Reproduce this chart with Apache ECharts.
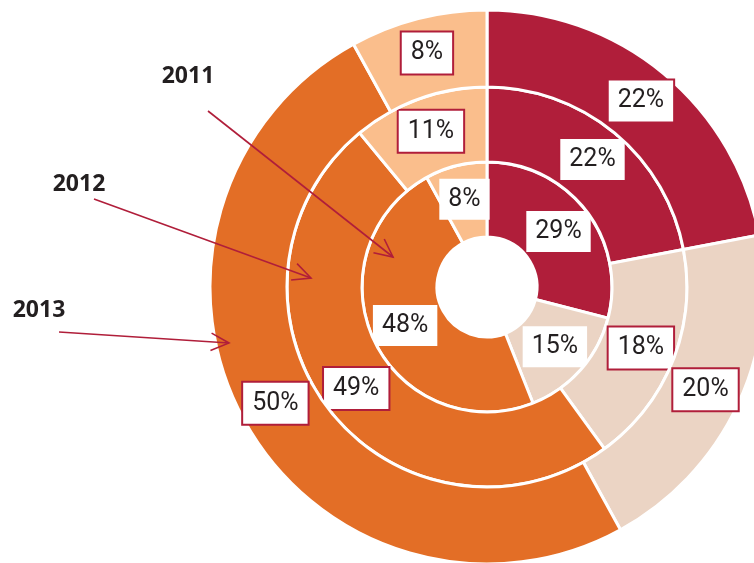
<!DOCTYPE html>
<html><head><meta charset="utf-8">
<script src="https://cdn.jsdelivr.net/npm/echarts@6/dist/echarts.min.js"></script>
<style>html,body{margin:0;padding:0;background:#fff}#c{width:754px;height:563px}</style>
</head><body><div id="c"></div>
<script>
const categories = ['A', 'B', 'C', 'D'];
const years = ['2011', '2012', '2013'];
const values2011 = [29, 15, 48, 8];
const values2012 = [22, 18, 49, 11];
const values2013 = [22, 20, 50, 8];

const colors = ['#B01E3A', '#EBD4C4', '#E36E26', '#FABE8C'];
const center = [487, 287];
const rings = [[50, 125], [125, 200], [200, 277]];
const FONT = '"Noto Sans", "Open Sans", sans-serif';
const LFONT = 'Roboto, "Noto Sans", sans-serif';

function series(vals, idx) {
  const bordered = idx > 0;
  return {
    type: 'pie', center: center, radius: rings[idx], startAngle: 90, clockwise: true,
    avoidLabelOverlap: false, silent: true, animation: false, z: 2 + idx,
    itemStyle: { borderColor: '#fff', borderWidth: 3 },
    label: {
      show: true, position: 'inside', formatter: '{c}%',
      fontFamily: LFONT, fontSize: 25, color: '#231F20', lineHeight: 26,
      backgroundColor: '#fff', padding: [8, 9, 7, 9],
      borderColor: bordered ? '#B01E3A' : '#fff', borderWidth: bordered ? 2 : 0
    },
    labelLayout: { hideOverlap: false },
    labelLine: { show: false },
    emphasis: { disabled: true },
    data: vals.map((v, i) => ({ name: categories[i], value: v, itemStyle: { color: colors[i] } }))
  };
}

const annotations = [
  { text: years[0], tx: 188, ty: 76, from: [208, 111], to: [393, 257] },
  { text: years[1], tx: 79, ty: 184, from: [94, 199], to: [311, 278] },
  { text: years[2], tx: 39, ty: 310, from: [59, 332], to: [229, 343] }
];
const graphics = [];
annotations.forEach(a => {
  graphics.push({ type: 'text', x: a.tx, y: a.ty, z: 100,
    style: { text: a.text, align: 'center', verticalAlign: 'middle',
      font: 'bold 23px ' + FONT, fill: '#231F20' } });
  graphics.push({ type: 'line', z: 100, shape: { x1: a.from[0], y1: a.from[1], x2: a.to[0], y2: a.to[1] },
    style: { stroke: '#B01E3A', lineWidth: 1.6 } });
  const ang = Math.atan2(a.to[1] - a.from[1], a.to[0] - a.from[0]);
  const L = 20, spread = 0.45;
  const p1 = [a.to[0] - L * Math.cos(ang - spread), a.to[1] - L * Math.sin(ang - spread)];
  const p2 = [a.to[0] - L * Math.cos(ang + spread), a.to[1] - L * Math.sin(ang + spread)];
  graphics.push({ type: 'polyline', z: 100, shape: { points: [p1, a.to, p2] },
    style: { stroke: '#B01E3A', lineWidth: 1.6, fill: null } });
});

const chart = echarts.init(document.getElementById('c'), null, { renderer: 'canvas' });
chart.setOption({
  animation: false,
  backgroundColor: '#fff',
  series: [series(values2011, 0), series(values2012, 1), series(values2013, 2)],
  graphic: graphics
});
</script></body></html>
